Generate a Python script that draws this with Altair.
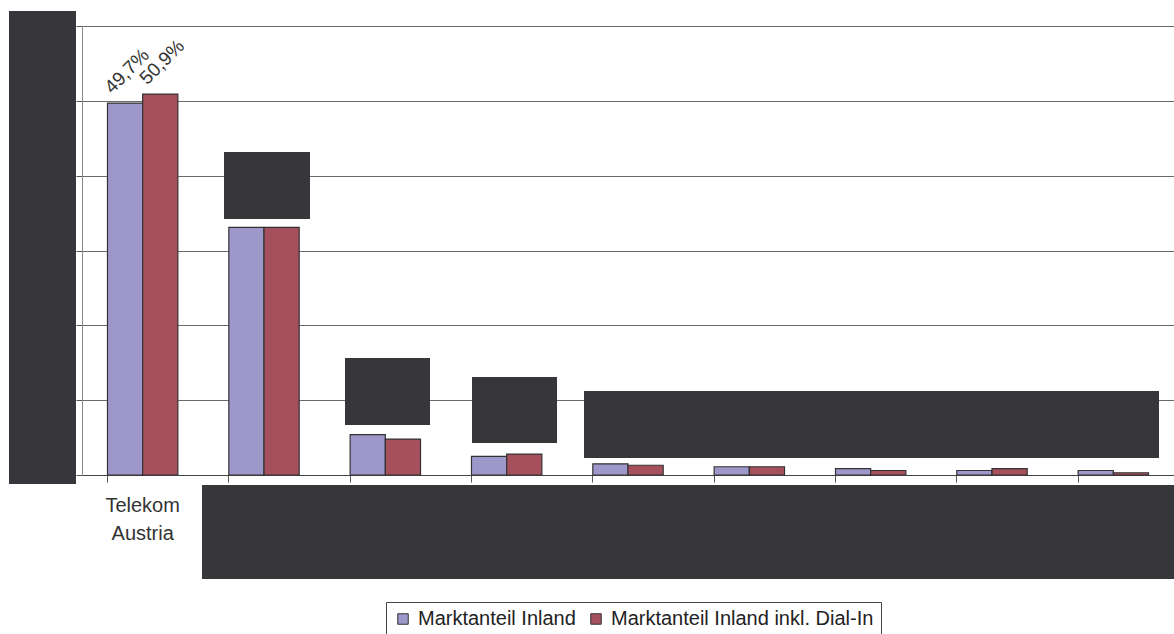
import altair as alt
import pandas as pd

categories = ["Telekom Austria", "Anbieter 2", "Anbieter 3", "Anbieter 4", "Anbieter 5",
              "Anbieter 6", "Anbieter 7", "Anbieter 8", "Anbieter 9"]
series_names = ["Marktanteil Inland", "Marktanteil Inland inkl. Dial-In"]
inland = [49.7, 33.1, 5.4, 2.5, 1.5, 1.1, 0.85, 0.6, 0.6]
inland_dialin = [50.9, 33.1, 4.8, 2.8, 1.3, 1.1, 0.6, 0.85, 0.3]
y_ticks = [0, 10, 20, 30, 40, 50, 60]

rows = []
for i, c in enumerate(categories):
    rows.append({"cat": c, "serie": series_names[0], "val": inland[i],
                 "lab": f"{inland[i]:.1f}".replace(".", ",") + "%"})
    rows.append({"cat": c, "serie": series_names[1], "val": inland_dialin[i],
                 "lab": f"{inland_dialin[i]:.1f}".replace(".", ",") + "%"})
df = pd.DataFrame(rows)

FONT = "Liberation Sans"
x_enc = alt.X("cat:N", sort=categories, title=None,
              scale=alt.Scale(paddingInner=0.42, paddingOuter=0.21),
              axis=alt.Axis(labelAngle=0, bandPosition=0, tickSize=7, tickColor="#555",
                            domainColor="#444", labelFontSize=20, labelColor="#333",
                            labelFont=FONT, labelLineHeight=28, labelPadding=13,
                            labelExpr="split(datum.label, ' ')", grid=False))
y_enc = alt.Y("val:Q", title=None,
              scale=alt.Scale(domain=[0, 60], nice=False),
              axis=alt.Axis(values=y_ticks, labelExpr="datum.value + '%'", grid=True,
                            gridColor="#6a6a6a", gridWidth=1, tickSize=6, tickColor="#555",
                            domainColor="#888", labelFontSize=18, labelFont=FONT))
xoff = alt.XOffset("serie:N", sort=series_names, scale=alt.Scale(paddingInner=0, paddingOuter=0))

bars = alt.Chart(df).mark_bar(stroke="#333", strokeWidth=1.2).encode(
    x=x_enc, y=y_enc, xOffset=xoff,
    color=alt.Color("serie:N", sort=series_names,
                    scale=alt.Scale(domain=series_names, range=["#9D97CA", "#A6505E"]),
                    legend=alt.Legend(title=None, orient="none", legendX=304, legendY=576,
                                      direction="horizontal", strokeColor="#444",
                                      padding=7, symbolType="square", symbolSize=110,
                                      symbolStrokeColor="#333", symbolStrokeWidth=1,
                                      labelFontSize=20, labelFont=FONT, labelColor="#222",
                                      labelLimit=0, columnPadding=10, labelOffset=5)),
)

labels = alt.Chart(df).mark_text(angle=315, align="center", baseline="middle",
                                 radius=32, theta=0.06, fontSize=19, font=FONT,
                                 color="#333").encode(
    x=alt.X("cat:N", sort=categories), y=alt.Y("val:Q"), xOffset=alt.XOffset("serie:N", sort=series_names),
    text="lab:N")

# redaction boxes present in the reference (pixel positions relative to plot area)
boxes = [(-73, -6, -15, 458), (142, 228, 126, 193), (263, 348, 332, 399),
         (390, 475, 351, 417), (502, 1077, 365, 432), (120, 1092, 459, 553)]
box_layers = []
one = pd.DataFrame({"k": [0]})
for (bx1, bx2, by1, by2) in boxes:
    box_layers.append(alt.Chart(one).mark_rect(color="#37363B").encode(
        x=alt.value(bx1), x2=alt.value(bx2), y=alt.value(by1), y2=alt.value(by2)))

chart = alt.layer(bars, labels, *box_layers).properties(
    width=1092, height=449,
    autosize=alt.AutoSizeParams(type="none"),
    padding={"left": 82, "top": 26, "right": 0, "bottom": 159},
).configure_view(stroke=None).configure(background="white")

chart.save("out.html", embed_options={"renderer": "svg", "actions": False})
